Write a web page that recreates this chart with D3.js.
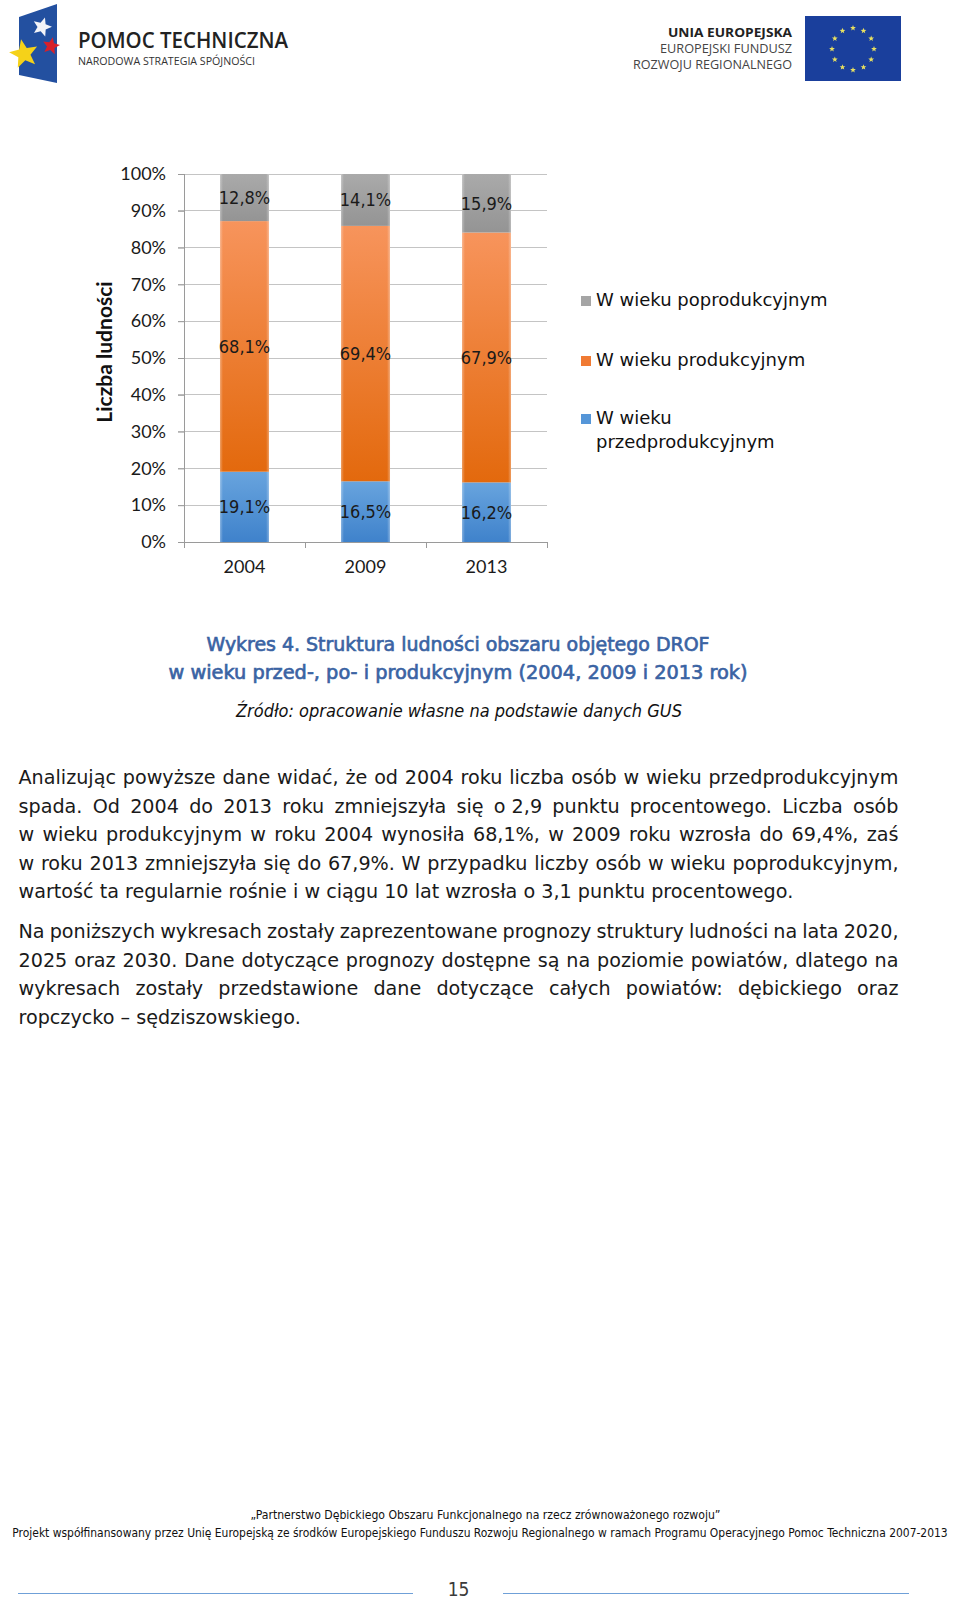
<!DOCTYPE html>
<html><head><meta charset="utf-8">
<script src="https://cdn.jsdelivr.net/npm/d3@7"></script>
<style>
html,body{margin:0;padding:0;background:#fff;}
svg{display:block;}
</style></head>
<body>
<svg id="page" width="960" height="1602"></svg>
<script>
// ---------- DATA ----------
const years = ["2004", "2009", "2013"];
const seriesNames = ["W wieku przedprodukcyjnym", "W wieku produkcyjnym", "W wieku poprodukcyjnym"];
const przed = [19.1, 16.5, 16.2];
const prod = [68.1, 69.4, 67.9];
const popro = [12.8, 14.1, 15.9];
const yTicks = [0, 10, 20, 30, 40, 50, 60, 70, 80, 90, 100];
const yTitle = "Liczba ludności";
const titleLines = ["Wykres 4. Struktura ludności obszaru objętego DROF",
                    "w wieku przed-, po- i produkcyjnym (2004, 2009 i 2013 rok)"];
const sourceText = "Źródło: opracowanie własne na podstawie danych GUS";
const para1 = [
  "Analizując powyższe dane widać, że od 2004 roku liczba osób w wieku przedprodukcyjnym",
  "spada. Od 2004 do 2013 roku zmniejszyła się o\u00a02,9 punktu procentowego. Liczba osób",
  "w wieku produkcyjnym w roku 2004 wynosiła 68,1%, w 2009 roku wzrosła do 69,4%, zaś",
  "w roku 2013 zmniejszyła się do 67,9%. W przypadku liczby osób w wieku poprodukcyjnym,",
  "wartość ta regularnie rośnie i w ciągu 10 lat wzrosła o 3,1 punktu procentowego."
];
const para2 = [
  "Na poniższych wykresach zostały zaprezentowane prognozy struktury ludności na lata 2020,",
  "2025 oraz 2030. Dane dotyczące prognozy dostępne są na poziomie powiatów, dlatego na",
  "wykresach zostały przedstawione dane dotyczące całych powiatów: dębickiego oraz",
  "ropczycko – sędziszowskiego."
];
const footer1 = "„Partnerstwo Dębickiego Obszaru Funkcjonalnego na rzecz zrównoważonego rozwoju”";
const footer2 = "Projekt współfinansowany przez Unię Europejską ze środków Europejskiego Funduszu Rozwoju Regionalnego w ramach Programu Operacyjnego Pomoc Techniczna 2007-2013";
const pageNumber = "15";

// ---------- SETUP ----------
const svg = d3.select("#page");
const defs = svg.append("defs");
const colors = {
  przed: ["#68a4de", "#3f82cb"],
  prod: ["#f7945c", "#e3690d"],
  popro: ["#aaaaaa", "#949494"]
};
const swatch = {przed: "#5596d8", prod: "#f07a33", popro: "#a5a5a5"};
Object.entries(colors).forEach(([k, c]) => {
  const g = defs.append("linearGradient").attr("id", "g-" + k)
    .attr("x1", 0).attr("y1", 0).attr("x2", 0).attr("y2", 1);
  g.append("stop").attr("offset", "0%").attr("stop-color", c[0]);
  g.append("stop").attr("offset", "100%").attr("stop-color", c[1]);
});
const eg = defs.append("linearGradient").attr("id", "edge").attr("x1", 0).attr("x2", 1).attr("y1", 0).attr("y2", 0);
eg.append("stop").attr("offset", "0%").attr("stop-color", "#fff").attr("stop-opacity", 0.35);
eg.append("stop").attr("offset", "6%").attr("stop-color", "#fff").attr("stop-opacity", 0);
eg.append("stop").attr("offset", "94%").attr("stop-color", "#fff").attr("stop-opacity", 0);
eg.append("stop").attr("offset", "100%").attr("stop-color", "#fff").attr("stop-opacity", 0.35);

// fit a font size so a text has the given natural width
function fitSize(family, text, target, weight) {
  const t = svg.append("text").style("font-family", family).style("font-size", "20px")
    .style("font-weight", weight || 400).text(text);
  const w = t.node().getComputedTextLength();
  t.remove();
  return 20 * target / w;
}

// ---------- HEADER LOGOS ----------
const logo = svg.append("g");
logo.append("path").attr("d", "M19,17 L57,4 L57,83 L19,75 Z").attr("fill", "#2350a0");
function starPath(cx, cy, R, r, rot) {
  const pts = [];
  for (let i = 0; i < 10; i++) {
    const a = rot + i * Math.PI / 5;
    const rad = i % 2 === 0 ? R : r;
    pts.push([cx + rad * Math.sin(a), cy - rad * Math.cos(a)]);
  }
  return "M" + pts.map(p => p.join(",")).join("L") + "Z";
}
logo.append("path").attr("d", starPath(42, 27, 10, 4.5, 0.3)).attr("fill", "#f4f4f8");
logo.append("path").attr("d", starPath(51, 46, 9, 4, 0.2)).attr("fill", "#d8202a");
logo.append("path").attr("d", starPath(24, 54, 15, 6.5, -0.2)).attr("fill", "#f5d219");
logo.append("text").attr("x", 78).attr("y", 48).attr("textLength", 210).attr("lengthAdjust", "spacingAndGlyphs")
  .style("font-family", "'Open Sans'").style("font-size", "21px").style("font-weight", 600).attr("fill", "#222")
  .text("POMOC TECHNICZNA");
logo.append("text").attr("x", 78).attr("y", 65).attr("textLength", 177).attr("lengthAdjust", "spacingAndGlyphs")
  .style("font-family", "'Open Sans'").style("font-size", "11px").attr("fill", "#333")
  .text("NARODOWA STRATEGIA SPÓJNOŚCI");

const eu = svg.append("g");
[["UNIA EUROPEJSKA", 37, 700, 124], ["EUROPEJSKI FUNDUSZ", 53, 400, 132], ["ROZWOJU REGIONALNEGO", 69, 400, 159]]
  .forEach(([t, y, w, len]) => {
    eu.append("text").attr("x", 792).attr("y", y).attr("text-anchor", "end")
      .attr("textLength", len).attr("lengthAdjust", "spacingAndGlyphs")
      .style("font-family", "'Open Sans'").style("font-size", "12.5px").style("font-weight", w)
      .attr("fill", w === 700 ? "#222" : "#444").text(t);
  });
eu.append("rect").attr("x", 805).attr("y", 16).attr("width", 96).attr("height", 65).attr("fill", "#1a3f9c");
for (let i = 0; i < 12; i++) {
  const a = i * Math.PI / 6;
  eu.append("path").attr("d", starPath(853 + 21 * Math.sin(a), 49 - 21 * Math.cos(a), 3, 1.3, 0)).attr("fill", "#e8e060");
}

// ---------- CHART ----------
const plot = {left: 184, right: 547, top: 174, bottom: 542};
const x = d3.scaleBand().domain(years).range([plot.left, plot.right])
  .paddingInner(0.595).paddingOuter(0.2975);
const y = d3.scaleLinear().domain([0, 100]).range([plot.bottom, plot.top]);
const chart = svg.append("g");

chart.selectAll("line.grid").data(yTicks).join("line").attr("class", "grid")
  .attr("x1", plot.left - 6).attr("x2", plot.right)
  .attr("y1", d => y(d)).attr("y2", d => y(d))
  .attr("stroke", "#c4c4c4").attr("stroke-width", 1).attr("shape-rendering", "crispEdges");

const yAxis = chart.append("g").attr("transform", `translate(${plot.left},0)`)
  .call(d3.axisLeft(y).tickValues(yTicks).tickFormat(d => d + "%").tickSize(6).tickPadding(12));
yAxis.select(".domain").attr("stroke", "#9a9a9a").attr("shape-rendering", "crispEdges");
yAxis.selectAll(".tick line").attr("stroke", "#9a9a9a");
yAxis.selectAll("text").style("font-family", "Lato").style("font-size", "18px").attr("fill", "#1a1a1a");

chart.append("text").attr("transform", "translate(103,352) rotate(-90)")
  .attr("text-anchor", "middle").attr("dominant-baseline", "central")
  .style("font-family", "Lato").style("font-size", "21px").style("font-weight", 700).attr("fill", "#111")
  .text(yTitle);

const rows = years.map((yr, i) => ({year: yr, przed: przed[i], prod: prod[i], popro: popro[i]}));
const keys = ["przed", "prod", "popro"];
const stack = d3.stack().keys(keys)(rows);
const barG = chart.append("g");
stack.forEach(layer => {
  const k = layer.key;
  const g = barG.append("g");
  g.selectAll("rect.bar").data(layer).join("rect").attr("class", "bar")
    .attr("x", d => x(d.data.year)).attr("width", x.bandwidth())
    .attr("y", d => y(d[1])).attr("height", d => y(d[0]) - y(d[1]))
    .attr("fill", `url(#g-${k})`);
  g.selectAll("rect.edge").data(layer).join("rect").attr("class", "edge")
    .attr("x", d => x(d.data.year)).attr("width", x.bandwidth())
    .attr("y", d => y(d[1])).attr("height", d => y(d[0]) - y(d[1]))
    .attr("fill", "url(#edge)");
});
const bounds = d3.range(years.length + 1).map(i => plot.left + i * x.step());
chart.append("line").attr("x1", plot.left - 6).attr("x2", plot.right)
  .attr("y1", y(0)).attr("y2", y(0)).attr("stroke", "#9a9a9a").attr("shape-rendering", "crispEdges");
chart.selectAll("line.xt").data(bounds).join("line").attr("class", "xt")
  .attr("x1", d => d).attr("x2", d => d).attr("y1", y(0)).attr("y2", y(0) + 6)
  .attr("stroke", "#9a9a9a").attr("shape-rendering", "crispEdges");
chart.selectAll("text.xl").data(years).join("text").attr("class", "xl")
  .attr("x", d => x(d) + x.bandwidth() / 2).attr("y", y(0) + 24)
  .attr("text-anchor", "middle").attr("dominant-baseline", "central")
  .style("font-family", "Lato").style("font-size", "18px").attr("fill", "#1a1a1a").text(d => d);

stack.forEach(layer => {
  barG.append("g").selectAll("text").data(layer).join("text")
    .attr("x", d => x(d.data.year) + x.bandwidth() / 2)
    .attr("y", d => (y(d[0]) + y(d[1])) / 2)
    .attr("text-anchor", "middle").attr("dominant-baseline", "central")
    .style("font-family", "'DejaVu Sans Condensed'").style("font-size", "18px").attr("fill", "#1a1a1a")
    .text(d => d.data[layer.key].toFixed(1).replace(".", ",") + "%");
});

const legendItems = [
  {k: "popro", lines: ["W wieku poprodukcyjnym"], base: 306},
  {k: "prod", lines: ["W wieku produkcyjnym"], base: 366},
  {k: "przed", lines: ["W wieku", "przedprodukcyjnym"], base: 424}
];
const leg = chart.append("g");
legendItems.forEach(it => {
  leg.append("rect").attr("x", 581).attr("y", it.base - 10).attr("width", 10).attr("height", 10).attr("fill", swatch[it.k]);
  it.lines.forEach((t, j) => {
    leg.append("text").attr("x", 596).attr("y", it.base + j * 24)
      .style("font-family", "'DejaVu Sans'").style("font-size", "18px").attr("fill", "#111").text(t);
  });
});

// ---------- CAPTION ----------
const cap = svg.append("g");
[[titleLines[0], 651, 503], [titleLines[1], 679, 579]].forEach(([t, yy, len]) => {
  cap.append("text").attr("x", 458).attr("y", yy).attr("text-anchor", "middle")
    .attr("textLength", len).attr("lengthAdjust", "spacingAndGlyphs")
    .style("font-family", "'DejaVu Sans Condensed'").style("font-size", "19px")
    .attr("fill", "#3a63a3").attr("stroke", "#3a63a3").attr("stroke-width", 0.6).text(t);
});
cap.append("text").attr("x", 459).attr("y", 717).attr("text-anchor", "middle")
  .attr("textLength", 446).attr("lengthAdjust", "spacingAndGlyphs")
  .style("font-family", "'DejaVu Sans Condensed'").style("font-size", "17px").style("font-style", "italic")
  .attr("fill", "#111").text(sourceText);

// ---------- BODY TEXT ----------
const body = svg.append("g");
const textLeft = 18.5, textRight = 898.5;
const bodyFamily = "'DejaVu Sans'";
const bodySize = fitSize(bodyFamily, para1[4], 793.5 - textLeft);
function drawPara(lines, baselines) {
  lines.forEach((line, li) => {
    const last = li === lines.length - 1;
    const words = line.split(" ");
    const g = body.append("g");
    const nodes = words.map(w => g.append("text").attr("y", baselines[li])
      .style("font-family", bodyFamily).style("font-size", bodySize + "px")
      .attr("fill", "#1a1a1a").text(w));
    const widths = nodes.map(n => n.node().getComputedTextLength());
    const t = g.append("text").style("font-family", bodyFamily).style("font-size", bodySize + "px").text("a a");
    const t2 = g.append("text").style("font-family", bodyFamily).style("font-size", bodySize + "px").text("aa");
    const spaceW = t.node().getComputedTextLength() - t2.node().getComputedTextLength();
    t.remove(); t2.remove();
    const total = d3.sum(widths);
    const gap = last ? spaceW : (textRight - textLeft - total) / (words.length - 1);
    let cx = textLeft;
    nodes.forEach((n, i) => { n.attr("x", cx); cx += widths[i] + gap; });
  });
}
drawPara(para1, [784, 813, 841, 870, 898]);
drawPara(para2, [938, 967, 995, 1024]);

// ---------- FOOTER ----------
const foot = svg.append("g");
const footFamily = "'DejaVu Sans Condensed'";
const f1Size = fitSize(footFamily, footer1, 471);
const f2Size = fitSize(footFamily, footer2, 936);
foot.append("text").attr("x", 485.5).attr("y", 1519).attr("text-anchor", "middle")
  .style("font-family", footFamily).style("font-size", f1Size + "px").attr("fill", "#111").text(footer1);
foot.append("text").attr("x", 480).attr("y", 1536.5).attr("text-anchor", "middle")
  .style("font-family", footFamily).style("font-size", f2Size + "px").attr("fill", "#111").text(footer2);
foot.append("line").attr("x1", 18).attr("x2", 413).attr("y1", 1593.5).attr("y2", 1593.5).attr("stroke", "#6fa0d8").attr("stroke-width", 1);
foot.append("line").attr("x1", 503).attr("x2", 909).attr("y1", 1593.5).attr("y2", 1593.5).attr("stroke", "#6fa0d8").attr("stroke-width", 1);
foot.append("text").attr("x", 458.5).attr("y", 1596).attr("text-anchor", "middle")
  .style("font-family", footFamily).style("font-size", "19px").attr("fill", "#3a3a3a").text(pageNumber);
</script>
</body></html>
